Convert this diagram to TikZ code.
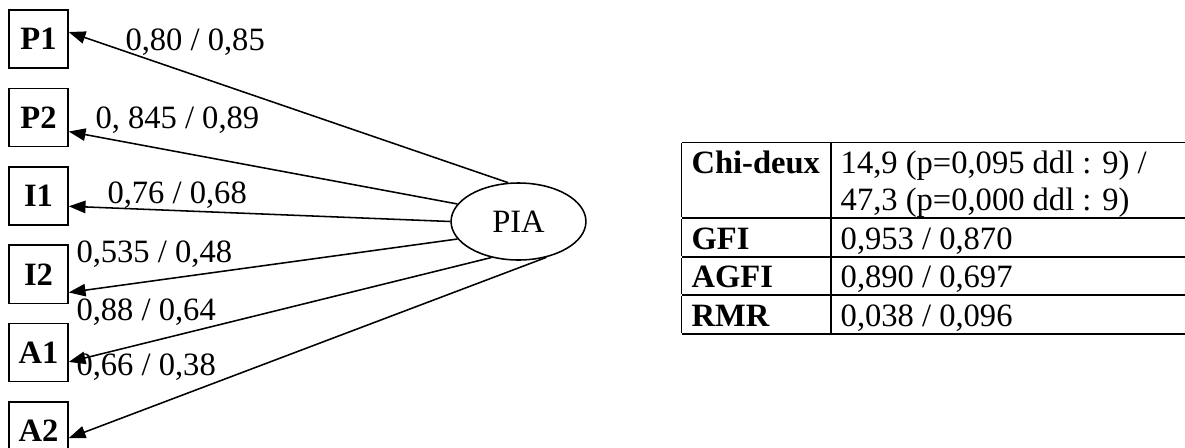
\documentclass[tikz,border=0pt]{standalone}
\usepackage{fontspec}
\setmainfont{Liberation Serif}
\usetikzlibrary{arrows.meta, positioning, shapes.geometric}
\setlength{\tabcolsep}{3.87pt}
\setlength{\arrayrulewidth}{0.6pt}
\renewcommand{\arraystretch}{0.5}
\newcommand{\cellstrut}{\rule[-2.7pt]{0pt}{14.3pt}}

\begin{document}
\begin{tikzpicture}[
        x=0.387pt, y=-0.387pt,
        font=\fontsize{12.6pt}{14.5pt}\selectfont,
        node distance=7.3pt,
        item/.style={draw, line width=0.6pt, minimum width=22.8pt, minimum height=22.45pt, inner sep=0pt, font=\fontsize{12.6pt}{14.5pt}\selectfont\bfseries},
        latent/.style={draw, ellipse, line width=0.6pt, minimum width=52.2pt, minimum height=29.8pt, inner sep=0pt},
        coef/.style={anchor=base west, inner sep=0pt},
        arr/.style={line width=0.6pt, -{Triangle[length=6.5pt, width=4.8pt]}}
    ]
    \useasboundingbox (0,0) rectangle (1185,447);

    \node[item] (p1) at (38.5,39) {P1};
    \node[item, below=of p1] (p2) {P2};
    \node[item, below=of p2] (i1) {I1};
    \node[item, below=of i1] (i2) {I2};
    \node[item, below=of i2] (a1) {A1};
    \node[item, below=of a1] (a2) {A2};

    \node[latent] (pia) at (518.5,221.5) {PIA};

    \draw[arr] (pia.105) -- (p1.13);
    \draw[arr] (pia.164) -- (p2.-25);
    \draw[arr] (pia.180) -- (i1.-19);
    \draw[arr] (pia.196) -- (i2.-31);
    \draw[arr] (pia.233) -- (a1.-17);
    \draw[arr] (pia.308) -- (a2.-13);

    \node[coef] (l1) at (125,50) {0,80 / 0,85};
    \node[coef] (l2) at (95,128) {0, 845 / 0,89};
    \node[coef] (l3) at (107,203) {0,76 / 0,68};
    \node[coef] (l4) at (76,262) {0,535 / 0,48};
    \node[coef] (l5) at (76,320) {0,88 / 0,64};
    \node[coef] (l6) at (76,375) {0,66 / 0,38};

    \node[anchor=north west, inner sep=0pt] (indices) at (681,141) {%
        \begin{tabular}{|p{50pt}|p{133.5pt}|}
            \hline
            \cellstrut\textbf{Chi-deux} & \cellstrut 14,9 (p=0,095 ddl : 9) /\newline 47,3 (p=0,000 ddl : 9)\cellstrut \\
            \hline
            \cellstrut\textbf{GFI} & \cellstrut 0,953 / 0,870 \\
            \hline
            \cellstrut\textbf{AGFI} & \cellstrut 0,890 / 0,697 \\
            \hline
            \cellstrut\textbf{RMR} & \cellstrut 0,038 / 0,096 \\
            \hline
        \end{tabular}};
\end{tikzpicture}
\end{document}
